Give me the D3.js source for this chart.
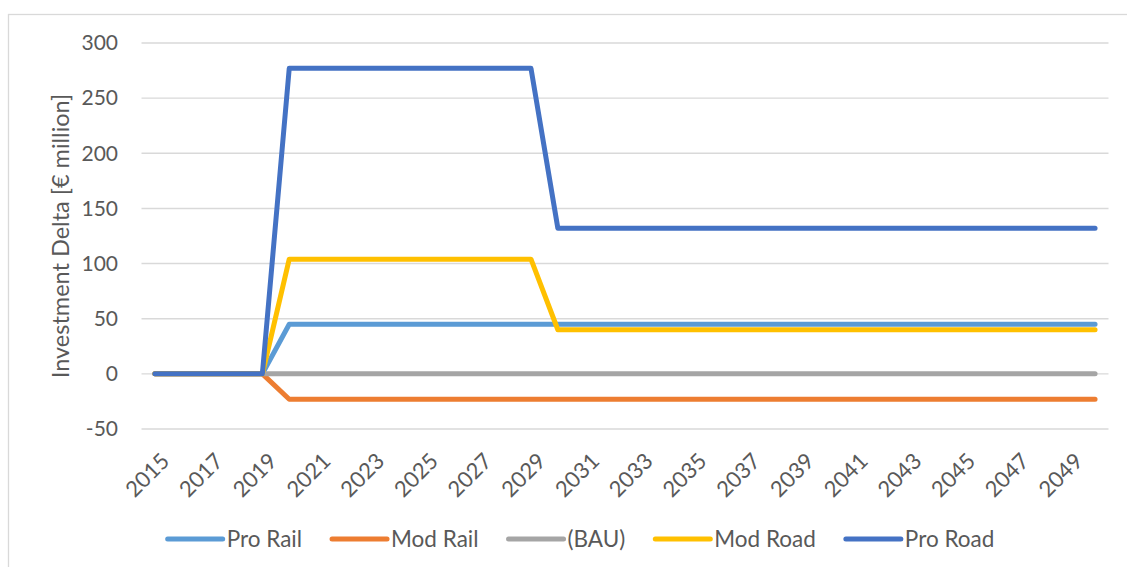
<!DOCTYPE html>
<html>
<head>
<meta charset="utf-8">
<script src="https://cdn.jsdelivr.net/npm/d3@7/dist/d3.min.js"></script>
<style>
  html, body { margin: 0; padding: 0; background: #fff; }
  svg { display: block; font-family: Lato, "Open Sans", sans-serif; }
</style>
</head>
<body>
<svg id="chart" width="1127" height="567"></svg>
<script>
const years = [2015,2016,2017,2018,2019,2020,2021,2022,2023,2024,2025,2026,2027,2028,2029,2030,2031,2032,2033,2034,2035,2036,2037,2038,2039,2040,2041,2042,2043,2044,2045,2046,2047,2048,2049,2050];
const tickYears = [2015,2017,2019,2021,2023,2025,2027,2029,2031,2033,2035,2037,2039,2041,2043,2045,2047,2049];
const yTicks = [-50,0,50,100,150,200,250,300];

const proRail = [0,0,0,0,0,45,45,45,45,45,45,45,45,45,45,45,45,45,45,45,45,45,45,45,45,45,45,45,45,45,45,45,45,45,45,45];
const modRail = [0,0,0,0,0,-23,-23,-23,-23,-23,-23,-23,-23,-23,-23,-23,-23,-23,-23,-23,-23,-23,-23,-23,-23,-23,-23,-23,-23,-23,-23,-23,-23,-23,-23,-23];
const bau     = [0,0,0,0,0,0,0,0,0,0,0,0,0,0,0,0,0,0,0,0,0,0,0,0,0,0,0,0,0,0,0,0,0,0,0,0];
const modRoad = [0,0,0,0,0,104,104,104,104,104,104,104,104,104,104,40,40,40,40,40,40,40,40,40,40,40,40,40,40,40,40,40,40,40,40,40];
const proRoad = [0,0,0,0,0,277,277,277,277,277,277,277,277,277,277,132,132,132,132,132,132,132,132,132,132,132,132,132,132,132,132,132,132,132,132,132];

const seriesNames = ["Pro Rail","Mod Rail","(BAU)","Mod Road","Pro Road"];
const seriesValues = [proRail, modRail, bau, modRoad, proRoad];
const seriesColors = ["#5B9BD5","#ED7D31","#A5A5A5","#FFC000","#4472C4"];

const svg = d3.select("#chart");
const textColor = "#595959";
const gridColor = "#d9d9d9";
const font = "Lato, 'Open Sans', sans-serif";

// chart border
svg.append("rect").attr("x",8.5).attr("y",14.5).attr("width",1140).attr("height",600)
  .attr("fill","none").attr("stroke",gridColor).attr("stroke-width",1.3);

const left = 141.5, right = 1108.5;
const x = d3.scalePoint().domain(years).range([left, right]).padding(0.5);
const y = d3.scaleLinear().domain([-50, 300]).range([429, 43]);

// gridlines
svg.append("g").selectAll("line").data(yTicks).join("line")
  .attr("x1", left).attr("x2", right)
  .attr("y1", d => y(d)).attr("y2", d => y(d))
  .attr("stroke", gridColor).attr("stroke-width", 1.4);

// y axis labels
const yAxis = d3.axisLeft(y).tickValues(yTicks).tickSize(0).tickPadding(0)
  .tickFormat(d => String(d));
const yg = svg.append("g").attr("transform", "translate(118,0)").call(yAxis);
yg.select(".domain").remove();
yg.selectAll("text").attr("fill", textColor).style("font-size","21px")
  .style("font-family", font);

// x axis labels
const xAxis = d3.axisBottom(x).tickValues(tickYears).tickSize(0).tickPadding(0)
  .tickFormat(d => String(d));
const xg = svg.append("g").attr("transform", "translate(0,429)").call(xAxis);
xg.select(".domain").remove();
xg.selectAll("text")
  .attr("fill", textColor).style("font-size","22px")
  .style("font-family", font)
  .attr("text-anchor","end")
  .attr("y", 0).attr("dy", "0.35em")
  .attr("transform", "translate(10,28) rotate(-45)");

// axis title
svg.append("text")
  .attr("transform", "translate(69,236) rotate(-90)")
  .attr("text-anchor","middle")
  .attr("fill", textColor).style("font-size","23.5px")
  .text("Investment Delta [€ million]");

// lines
const line = d3.line().x((d,i) => x(years[i])).y(d => y(d));
svg.append("g").selectAll("path").data(seriesValues).join("path")
  .attr("d", d => line(d))
  .attr("fill","none")
  .attr("stroke", (d,i) => seriesColors[i])
  .attr("stroke-width", 5)
  .attr("stroke-linejoin","round")
  .attr("stroke-linecap","round");

// legend
const lg = svg.append("g");
const items = lg.selectAll("g").data(seriesNames).join("g");
items.append("line").attr("x1",0).attr("x2",55).attr("y1",0).attr("y2",0)
  .attr("stroke",(d,i)=>seriesColors[i]).attr("stroke-width",5).attr("stroke-linecap","round");
items.append("text").attr("x",59).attr("y",0).attr("dy","0.35em")
  .attr("fill",textColor).style("font-size","22.5px").text(d=>d);
let widths = [];
items.each(function(){ widths.push(59 + this.querySelector("text").getComputedTextLength()); });
const gap = 30;
const total = d3.sum(widths) + gap*(widths.length-1);
let cx = 581 - total/2;
items.attr("transform", (d,i) => {
  const t = `translate(${cx},539)`;
  cx += widths[i] + gap;
  return t;
});
</script>
</body>
</html>
